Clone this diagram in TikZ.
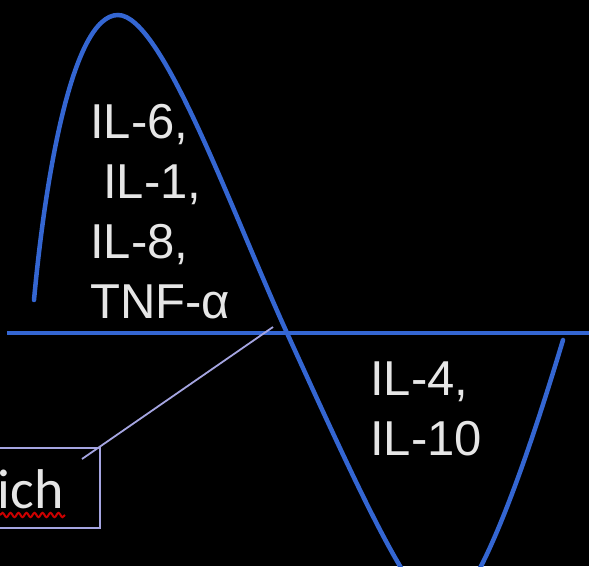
\documentclass[tikz,border=0pt]{standalone}
\usepackage{fontspec}
\setmainfont{Liberation Sans}
\newfontfamily\callfont{Carlito}
\usetikzlibrary{decorations.pathmorphing}
\definecolor{wave}{RGB}{52,102,210}
\definecolor{txt}{RGB}{230,230,230}
\definecolor{lav}{RGB}{165,165,225}
\tikzset{
  lbl/.style={anchor=north west, inner sep=0pt, text=txt, align=left,
    font=\fontsize{49}{60}\selectfont},
  curve/.style={draw=wave, line width=4.5pt, line cap=round},
}
\begin{document}
\begin{tikzpicture}[x=1pt,y=-1pt]
\fill[black] (0,0) rectangle (589,566);
\useasboundingbox (0,0) rectangle (589,566);
\begin{scope}
\clip (0,0) rectangle (589,566);
\draw[curve] (34,300) .. controls (45,180) and (72,15) .. (118,15)
  .. controls (162,15) and (231,210) .. (287,333)
  .. controls (360,493) and (414,612) .. (442,612)
  .. controls (476,612) and (530,450) .. (563,340);
\draw[wave, line width=4.5pt] (7,333) coordinate (ax0) -- (589,333) coordinate (ax1);
\node[draw=lav, line width=2pt, minimum width=120pt, minimum height=80pt, inner sep=0pt, anchor=north east] (box) at (101,447) {};
\node[anchor=base east, inner sep=0pt, text=txt, font=\callfont\fontsize{56}{60}\selectfont] (ich) at (64,508) {ich};
\draw[red!80!black, line width=2pt, decorate, decoration={snake, amplitude=2.2pt, segment length=8pt}] (0,515) -- (65,515);
\coordinate (cin) at (82,459);
\coordinate (cax) at (273,327);
\draw[lav, line width=1.8pt] (cin) -- (cax);
\end{scope}
\node[lbl] (pro) at (90,104) {IL-6,\\\hspace*{13pt}IL-1,\\IL-8,\\TNF-α};
\node[lbl] (anti) at (370,362) {IL-4,\\IL-10};
\end{tikzpicture}
\end{document}
